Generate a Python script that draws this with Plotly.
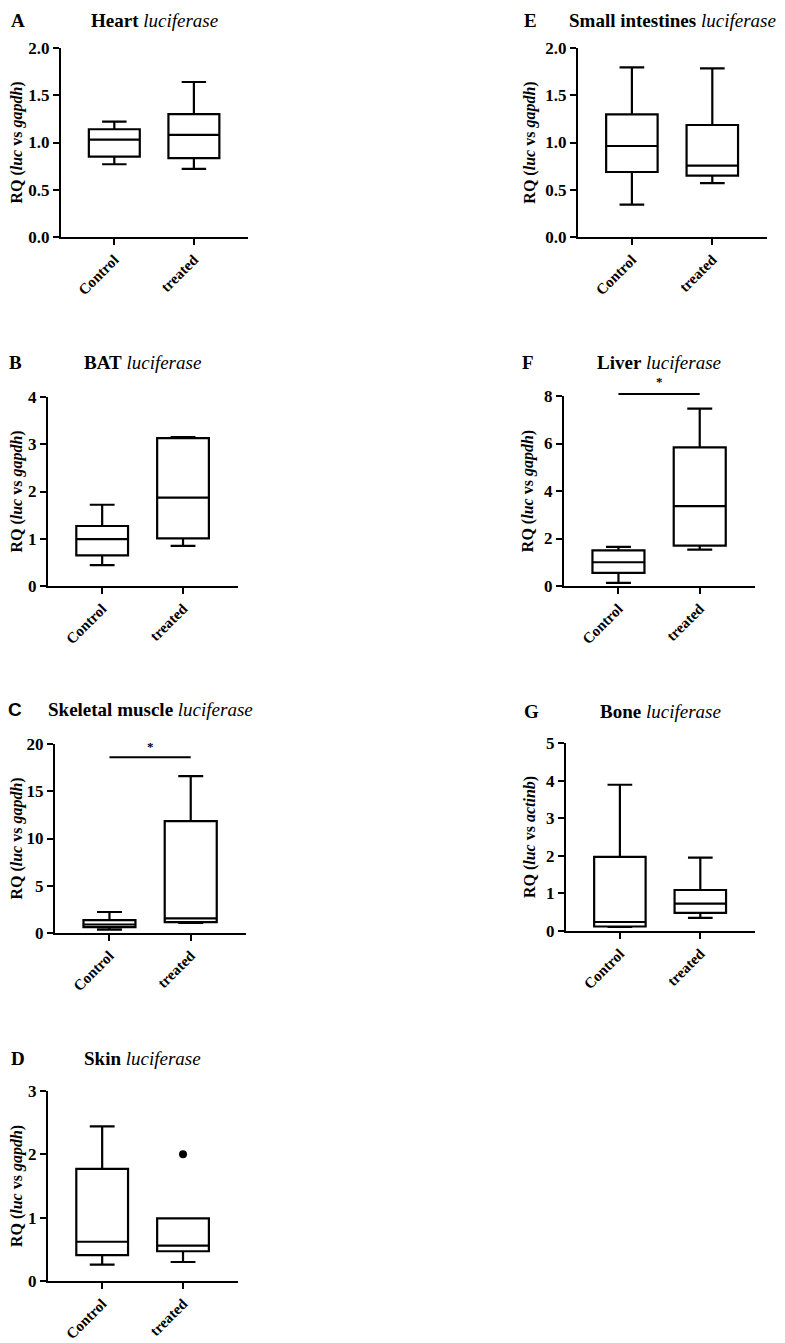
import plotly.graph_objects as go

W, H = 785, 1343          # browser window
OFF = 8                   # default page margin of the html body
FW, FH = W - OFF, H - OFF # figure size that fits the window
groups = ["Control", "treated"]

# ---- data ----
heart_low = [0.77, 0.72]
heart_q1 = [0.85, 0.835]
heart_med = [1.03, 1.08]
heart_q3 = [1.14, 1.30]
heart_high = [1.22, 1.64]

bat_low = [0.44, 0.85]
bat_q1 = [0.65, 1.01]
bat_med = [0.99, 1.87]
bat_q3 = [1.27, 3.13]
bat_high = [1.72, 3.15]

muscle_low = [0.35, 1.06]
muscle_q1 = [0.63, 1.16]
muscle_med = [0.90, 1.55]
muscle_q3 = [1.37, 11.83]
muscle_high = [2.22, 16.6]

skin_low = [0.26, 0.30]
skin_q1 = [0.41, 0.47]
skin_med = [0.62, 0.56]
skin_q3 = [1.77, 0.99]
skin_high = [2.44, 0.99]
skin_outlier_group = ["treated"]
skin_outlier_value = [2.0]

intest_low = [0.342, 0.571]
intest_q1 = [0.688, 0.649]
intest_med = [0.963, 0.755]
intest_q3 = [1.298, 1.185]
intest_high = [1.795, 1.785]

liver_low = [0.13, 1.53]
liver_q1 = [0.55, 1.70]
liver_med = [1.00, 3.36]
liver_q3 = [1.50, 5.84]
liver_high = [1.65, 7.47]

bone_low = [0.11, 0.35]
bone_q1 = [0.12, 0.48]
bone_med = [0.24, 0.73]
bone_q3 = [1.97, 1.09]
bone_high = [3.89, 1.95]

panels = [
    dict(letter="A", tissue="Heart", ref="gapdh", ymax=2.0, dtick=0.5, fmt=".1f",
         low=heart_low, q1=heart_q1, med=heart_med, q3=heart_q3, high=heart_high,
         box=(61, 248, 48, 237), lpos=(18, 13), tpos=(154, 13)),
    dict(letter="B", tissue="BAT", ref="gapdh", ymax=4, dtick=1, fmt="d",
         low=bat_low, q1=bat_q1, med=bat_med, q3=bat_q3, high=bat_high,
         box=(48, 238, 397, 586), lpos=(14, 362), tpos=(142, 362)),
    dict(letter="C", tissue="Skeletal muscle", ref="gapdh", ymax=20, dtick=5, fmt="d",
         low=muscle_low, q1=muscle_q1, med=muscle_med, q3=muscle_q3, high=muscle_high,
         box=(55, 246, 744, 933), lpos=(11, 709), tpos=(150, 709),
         sig=18.6, star=19.7),
    dict(letter="D", tissue="Skin", ref="gapdh", ymax=3, dtick=1, fmt="d",
         low=skin_low, q1=skin_q1, med=skin_med, q3=skin_q3, high=skin_high,
         box=(48, 238, 1091, 1281), lpos=(18, 1058), tpos=(142, 1058),
         outx=skin_outlier_group, outy=skin_outlier_value),
    dict(letter="E", tissue="Small intestines", ref="gapdh", ymax=2.0, dtick=0.5, fmt=".1f",
         low=intest_low, q1=intest_q1, med=intest_med, q3=intest_q3, high=intest_high,
         box=(578, 767, 48, 237), lpos=(530, 15), tpos=(672, 15)),
    dict(letter="F", tissue="Liver", ref="gapdh", ymax=8, dtick=2, fmt="d",
         low=liver_low, q1=liver_q1, med=liver_med, q3=liver_q3, high=liver_high,
         box=(564, 755, 396, 586), lpos=(528, 362), tpos=(659, 362),
         sig=8.08, star=8.6),
    dict(letter="G", tissue="Bone", ref="actinb", ymax=5, dtick=1, fmt="d",
         low=bone_low, q1=bone_q1, med=bone_med, q3=bone_q3, high=bone_high,
         box=(566, 755, 743, 931), lpos=(531, 711), tpos=(660, 711)),
]

SERIF = "Liberation Serif"
SANS = "Liberation Sans"


def fx(px):
    return (px - OFF) / FW


def fy(py):
    return 1 - (py - OFF) / FH


fig = go.Figure()
annotations = []
shapes = []

for i, p in enumerate(panels, start=1):
    xa = "x" if i == 1 else f"x{i}"
    ya = "y" if i == 1 else f"y{i}"
    fig.add_trace(go.Box(
        x=groups, q1=p["q1"], median=p["med"], q3=p["q3"],
        lowerfence=p["low"], upperfence=p["high"],
        boxpoints=False, width=0.64, whiskerwidth=0.48,
        fillcolor="rgba(255,255,255,0)",
        line=dict(color="black", width=2.2),
        xaxis=xa, yaxis=ya, showlegend=False, hoverinfo="skip",
    ))
    if "outx" in p:
        fig.add_trace(go.Scatter(
            x=p["outx"], y=p["outy"], mode="markers",
            marker=dict(color="black", size=8),
            xaxis=xa, yaxis=ya, showlegend=False, cliponaxis=False,
        ))
    x0, x1, yt, yb = p["box"]
    kx = "xaxis" if i == 1 else f"xaxis{i}"
    ky = "yaxis" if i == 1 else f"yaxis{i}"
    fig.layout[kx] = dict(
        domain=[fx(x0), fx(x1)], anchor=ya, automargin=False,
        type="category", categoryorder="array", categoryarray=groups,
        range=[-0.67, 1.68],
        showline=True, linecolor="black", linewidth=2.2,
        ticks="outside", ticklen=6, tickwidth=2.2, tickcolor="black",
        tickangle=-45, showgrid=False, zeroline=False,
        tickfont=dict(family=SERIF, size=15, color="black", weight="bold"),
    )
    fig.layout[ky] = dict(
        domain=[fy(yb), fy(yt)], anchor=xa, automargin=False,
        range=[0, p["ymax"]], dtick=p["dtick"], tick0=0,
        tickformat=p["fmt"],
        showline=True, linecolor="black", linewidth=2.2,
        ticks="outside", ticklen=6, tickwidth=2.2, tickcolor="black",
        showgrid=False, zeroline=False,
        tickfont=dict(family=SERIF, size=17, color="black", weight="bold"),
        title=dict(text=f"<b>RQ (<i>luc</i> vs <i>{p['ref']}</i>)</b>",
                   font=dict(family=SERIF, size=16, color="black"), standoff=6),
    )
    lx, ly = p["lpos"]
    annotations.append(dict(
        x=fx(max(lx, OFF + 7)), y=fy(max(ly, OFF + 12)), xref="paper", yref="paper",
        text=f"<b>{p['letter']}</b>", showarrow=False,
        xanchor="center", yanchor="middle",
        font=dict(family=SANS if p["letter"] == "C" else SERIF, size=19, color="black"),
    ))
    tx, ty = p["tpos"]
    annotations.append(dict(
        x=fx(tx), y=fy(max(ty, OFF + 12)), xref="paper", yref="paper",
        text=f"<b>{p['tissue']}</b> <i>luciferase</i>", showarrow=False,
        xanchor="center", yanchor="middle",
        font=dict(family=SERIF, size=19, color="black"),
    ))
    if "sig" in p:
        shapes.append(dict(
            type="line", xref=xa, yref=f"{ya} domain",
            x0=groups[0], x1=groups[1],
            y0=p["sig"] / p["ymax"], y1=p["sig"] / p["ymax"],
            line=dict(color="black", width=2),
        ))
        annotations.append(dict(
            x=0.5, y=p["star"] / p["ymax"], xref=xa, yref=f"{ya} domain",
            text="<b>*</b>",
            showarrow=False, xanchor="center", yanchor="middle",
            font=dict(family=SERIF, size=13, color="black"),
        ))

fig.update_layout(
    width=FW, height=FH,
    margin=dict(l=0, r=0, t=0, b=0, autoexpand=False),
    paper_bgcolor="white", plot_bgcolor="white",
    annotations=annotations, shapes=shapes,
    showlegend=False,
)

fig.write_html("out.html")
